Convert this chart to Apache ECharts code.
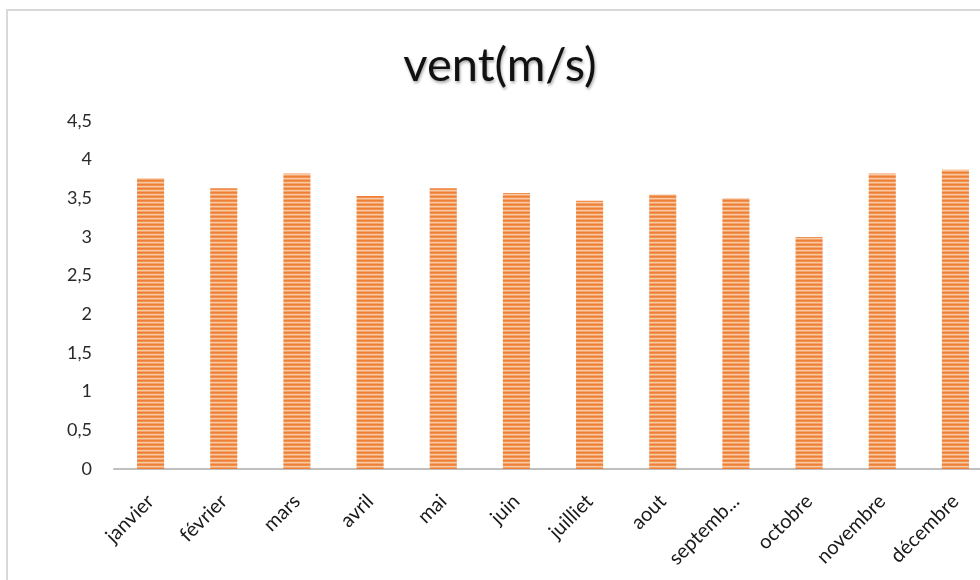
<!DOCTYPE html>
<html>
<head>
<meta charset="utf-8">
<script src="https://cdn.jsdelivr.net/npm/echarts@6/dist/echarts.min.js"></script>
<style>
  html, body { margin: 0; padding: 0; background: #fff; overflow: hidden; width: 980px; height: 580px; }
  /* plot area runs slightly past the right edge of the window */
  #chart { width: 1000px; height: 580px; }
</style>
</head>
<body>
<div id="chart"></div>
<script>
// Monthly mean wind speed (m/s)
const months = ['janvier', 'février', 'mars', 'avril', 'mai', 'juin', 'juilliet', 'aout', 'septembre', 'octobre', 'novembre', 'décembre'];
const windSpeed = [3.76, 3.63, 3.82, 3.53, 3.63, 3.57, 3.47, 3.55, 3.50, 3.00, 3.82, 3.87];
const yTicks = [0, 0.5, 1, 1.5, 2, 2.5, 3, 3.5, 4, 4.5];

// Horizontal striped fill for the bars
function stripePattern() {
  const c = document.createElement('canvas');
  c.width = 4; c.height = 4;
  const ctx = c.getContext('2d');
  const rows = ['#EE7F35', '#F0914F', '#F8C9A6', '#F3A56E'];
  rows.forEach((col, i) => { ctx.fillStyle = col; ctx.fillRect(0, i, 4, 1); });
  return c;
}

const chart = echarts.init(document.getElementById('chart'), null, { renderer: 'canvas' });
const font = 'Lato, "Open Sans", sans-serif';

chart.setOption({
  animation: false,
  backgroundColor: '#ffffff',
  title: {
    text: 'vent(m/s)',
    left: 'center',
    top: 37,
    textStyle: {
      fontFamily: font,
      fontSize: 47,
      fontWeight: 'normal',
      color: '#111',
      textShadowColor: 'rgba(0,0,0,0.35)',
      textShadowBlur: 3,
      textShadowOffsetX: 1,
      textShadowOffsetY: 2
    }
  },
  graphic: [{
    type: 'rect',
    shape: { x: 7, y: 10, width: 1020, height: 600 },
    style: { fill: 'none', stroke: '#D9D9D9', lineWidth: 2 },
    silent: true
  }],
  grid: { left: 114, top: 121, right: 8, height: 348, containLabel: false },
  xAxis: {
    type: 'category',
    data: months,
    axisLine: { lineStyle: { color: '#BFBFBF', width: 2 } },
    axisTick: { show: false },
    axisLabel: {
      rotate: 45,
      interval: 0,
      margin: 29,
      fontFamily: font,
      fontSize: 20,
      color: '#1a1a1a',
      formatter: v => v.length > 8 ? v.slice(0, 7) + '...' : v
    }
  },
  yAxis: {
    type: 'value',
    min: yTicks[0],
    max: yTicks[yTicks.length - 1],
    interval: yTicks[1] - yTicks[0],
    axisLine: { show: false },
    axisTick: { show: false },
    splitLine: { show: false },
    axisLabel: {
      margin: 22,
      fontFamily: font,
      fontSize: 18,
      color: '#2a2a2a',
      formatter: v => String(v).replace('.', ',')
    }
  },
  series: [{
    type: 'bar',
    data: windSpeed,
    barWidth: '37%',
    itemStyle: {
      color: { image: stripePattern(), repeat: 'repeat' }
    }
  }]
});
</script>
</body>
</html>
